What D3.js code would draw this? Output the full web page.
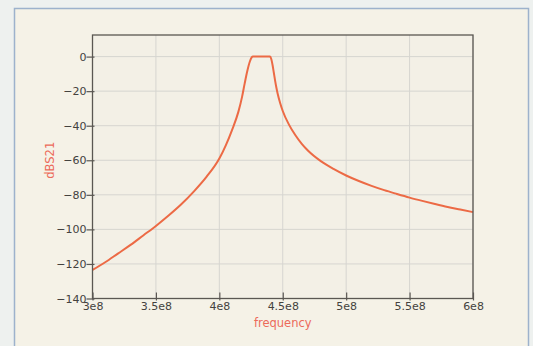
<!DOCTYPE html>
<html><head><meta charset="utf-8">
<script src="https://cdn.jsdelivr.net/npm/d3@7"></script>
<style>
html,body{margin:0;padding:0;background:#eef1ef;}
svg{display:block;}
</style></head>
<body>
<svg id="chart" width="533" height="346"></svg>
<script>
// Frequency (units of 1e8 Hz) and dBS21 values
const freq = [3.00, 3.10, 3.20, 3.30, 3.40, 3.50, 3.60, 3.70, 3.80, 3.90, 4.00, 4.05, 4.10, 4.15, 4.18, 4.20, 4.22, 4.24, 4.255, 4.265,
              4.33, 4.40, 4.41, 4.42, 4.43, 4.44, 4.45, 4.46, 4.48, 4.50, 4.55, 4.60, 4.65, 4.70, 4.80, 4.90, 5.00,
              5.10, 5.20, 5.30, 5.40, 5.50, 5.60, 5.70, 5.80, 5.90, 6.00];
const dbs21 = [-123.5, -119, -114, -109, -103.5, -98, -92, -85.5, -78, -69.5, -59, -51.5, -42.5, -32, -23, -15.5, -8.5, -3, -0.5, 0,
               0, 0, -1.5, -5, -9.5, -14, -18, -21.5, -27, -31.5, -39.5, -45.5, -50.5, -54.5, -60.5, -65, -68.8,
               -72, -74.8, -77.3, -79.5, -81.6, -83.5, -85.3, -87, -88.5, -90];
const xTicks = [3, 3.5, 4, 4.5, 5, 5.5, 6];
const xTickLabels = ["3e8", "3.5e8", "4e8", "4.5e8", "5e8", "5.5e8", "6e8"];
const yTicks = [0, -20, -40, -60, -80, -100, -120, -140];

const svg = d3.select("#chart");
const m = {left: 92.5, top: 35, right: 473, bottom: 298.5};

// outer frame
svg.append("rect").attr("x", 14.5).attr("y", 8.5).attr("width", 514).attr("height", 345)
  .attr("fill", "#f5f2e7").attr("stroke", "#9db2cc").attr("stroke-width", 1.5);

const x = d3.scaleLinear().domain([3, 6]).range([m.left, m.right]);
const y = d3.scaleLinear().domain([-140, 12.5]).range([m.bottom, m.top]);

// plot background
svg.append("rect").attr("x", m.left).attr("y", m.top)
  .attr("width", m.right - m.left).attr("height", m.bottom - m.top)
  .attr("fill", "#f3f0e6");

// grid
const grid = svg.append("g");
grid.selectAll("line.vx").data(xTicks).join("line")
  .attr("x1", d => x(d)).attr("x2", d => x(d)).attr("y1", m.top).attr("y2", m.bottom)
  .attr("stroke", "#d6d5d0").attr("stroke-width", 1);
grid.selectAll("line.hy").data(yTicks).join("line")
  .attr("y1", d => y(d)).attr("y2", d => y(d)).attr("x1", m.left).attr("x2", m.right)
  .attr("stroke", "#d6d5d0").attr("stroke-width", 1);

// curve
const pts = freq.map((f, i) => [f, dbs21[i]]);
svg.append("path").datum(pts)
  .attr("d", d3.line().x(d => x(d[0])).y(d => y(d[1])).curve(d3.curveMonotoneX))
  .attr("fill", "none").attr("stroke", "#ec6a45").attr("stroke-width", 2);

// plot border
svg.append("rect").attr("x", m.left).attr("y", m.top)
  .attr("width", m.right - m.left).attr("height", m.bottom - m.top)
  .attr("fill", "none").attr("stroke", "#5a5752").attr("stroke-width", 1.3);

// axes
const xAxis = d3.axisBottom(x).tickValues(xTicks).tickFormat((d, i) => xTickLabels[i])
  .tickSizeInner(-6).tickSizeOuter(0).tickPadding(9);
const gx = svg.append("g").attr("transform", `translate(0,${m.bottom})`).call(xAxis);
gx.select(".domain").remove();
gx.selectAll(".tick line").attr("stroke", "#5a5752").attr("y1", 2).attr("stroke-width", 1.2);
gx.selectAll(".tick text").attr("fill", "#44423e").attr("font-family", "DejaVu Sans").attr("font-size", "11px")
  .attr("dy", "0.71em").attr("y", 4);

const yAxis = d3.axisLeft(y).tickValues(yTicks).tickFormat(d3.format("d"))
  .tickSizeInner(6).tickSizeOuter(0).tickPadding(2);
const gy = svg.append("g").attr("transform", `translate(${m.left},0)`).call(yAxis);
gy.select(".domain").remove();
gy.selectAll(".tick line").attr("stroke", "#5a5752").attr("x2", 2).attr("x1", -6).attr("stroke-width", 1.2);
gy.selectAll(".tick text").attr("fill", "#44423e").attr("font-family", "DejaVu Sans").attr("font-size", "11px")
  .attr("x", -6);

// axis titles
svg.append("text").attr("x", x(4.5)).attr("y", 327).attr("text-anchor", "middle")
  .attr("fill", "#ec6a5a").attr("font-family", "DejaVu Sans").attr("font-size", "11.5px").text("frequency");
svg.append("text").attr("transform", `translate(54,${y(-60)}) rotate(-90)`).attr("text-anchor", "middle")
  .attr("fill", "#ec6a5a").attr("font-family", "DejaVu Sans").attr("font-size", "11.5px").text("dBS21");
</script>
</body></html>
